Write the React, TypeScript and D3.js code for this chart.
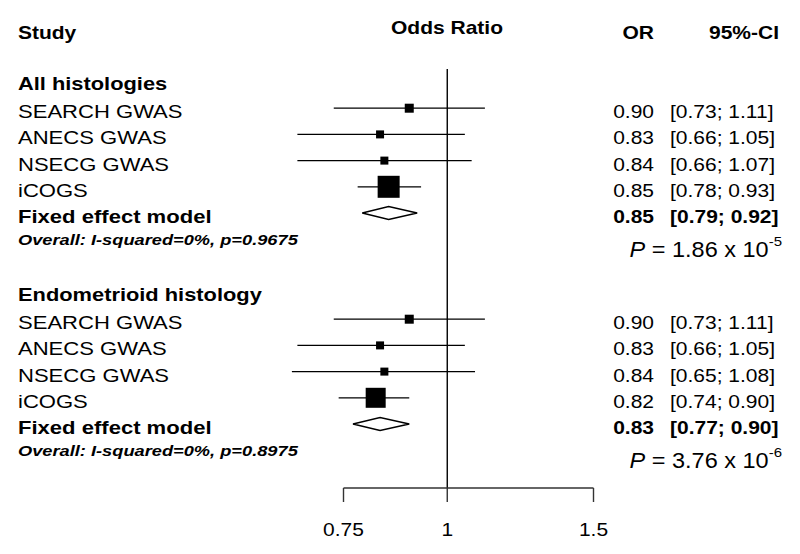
import React from "react";
import * as d3 from "d3";

const groups = ["All histologies", "Endometrioid histology"];
const studies = ["SEARCH GWAS", "ANECS GWAS", "NSECG GWAS", "iCOGS"];
const orG1 = [0.90, 0.83, 0.84, 0.85];
const loG1 = [0.73, 0.66, 0.66, 0.78];
const hiG1 = [1.11, 1.05, 1.07, 0.93];
const wG1 = [9, 8, 8, 22];
const orG2 = [0.90, 0.83, 0.84, 0.82];
const loG2 = [0.73, 0.66, 0.65, 0.74];
const hiG2 = [1.11, 1.05, 1.08, 0.90];
const wG2 = [9, 8, 8, 20];
const fixedOR = [0.85, 0.83];
const fixedLo = [0.79, 0.77];
const fixedHi = [0.92, 0.90];
const hetText = ["Overall: I-squared=0%, p=0.9675", "Overall: I-squared=0%, p=0.8975"];
const pMant = ["1.86", "3.76"];
const pExp = ["-5", "-6"];
const ticks = [0.75, 1, 1.5];

const f2 = (v: number) => v.toFixed(2);
const SY = 0.91;

function T(props: any) {
  const { x, y, sx = 1, children, ...rest } = props;
  return (
    <text transform={`translate(${x},${y}) scale(${sx},${SY})`} {...rest}>
      {children}
    </text>
  );
}

export default function App() {
  const W = 800, H = 554;
  const x = d3.scaleLog().domain([0.75, 1.5]).range([343.5, 593.5]);
  const font = "'Liberation Sans', Arial, sans-serif";
  const rowH = 26.2;
  const groupTop = [82, 293];
  const data = [
    { or: orG1, lo: loG1, hi: hiG1, w: wG1 },
    { or: orG2, lo: loG2, hi: hiG2, w: wG2 },
  ];
  const axisY = 488;
  const FS = 21;
  const LX = 1.05;
  const orX = 654;
  const ciX = 670;
  return (
    <svg width={W} height={H} style={{ position: "absolute", left: 0, top: 0, background: "#fff" }} fontFamily={font}>
      <rect width={W} height={H} fill="#fff" />
      <T x={18} y={38.5} fontSize={FS} fontWeight="bold">Study</T>
      <T x={447} y={34} fontSize={FS} fontWeight="bold" textAnchor="middle">Odds Ratio</T>
      <T x={orX} y={38.5} fontSize={FS} fontWeight="bold" textAnchor="end">OR</T>
      <T x={779} y={38.5} fontSize={FS} fontWeight="bold" textAnchor="end">95%-CI</T>

      <line x1={x(1)} x2={x(1)} y1={69} y2={axisY} stroke="#000" strokeWidth={1.4} />

      {groups.map((g, gi) => {
        const y0 = groupTop[gi];
        const d = data[gi];
        const fy = y0 + rowH * 5;
        return (
          <g key={g}>
            <T x={18} y={y0 + 8} sx={1.04} fontSize={FS} fontWeight="bold">{g}</T>
            {studies.map((s, i) => {
              const y = y0 + rowH * (i + 1);
              const cx = x(d.or[i]);
              return (
                <g key={s}>
                  <T x={18} y={y + 10} sx={LX} fontSize={FS}>{s}</T>
                  <line x1={x(d.lo[i])} x2={x(d.hi[i])} y1={y} y2={y} stroke="#000" strokeWidth={1.3} />
                  <rect x={cx - d.w[i] / 2} y={y - d.w[i] / 2} width={d.w[i]} height={d.w[i]} fill="#000" />
                  <T x={orX} y={y + 10} fontSize={FS} textAnchor="end">{f2(d.or[i])}</T>
                  <T x={ciX} y={y + 10} fontSize={FS}>[{f2(d.lo[i])}; {f2(d.hi[i])}]</T>
                </g>
              );
            })}
            <T x={18} y={fy + 10} sx={LX} fontSize={FS} fontWeight="bold">Fixed effect model</T>
            <polygon
              points={`${x(fixedLo[gi])},${fy} ${x(fixedOR[gi])},${fy - 6.5} ${x(fixedHi[gi])},${fy} ${x(fixedOR[gi])},${fy + 6.5}`}
              fill="#fff" stroke="#000" strokeWidth={1.4} />
            <T x={orX} y={fy + 10} fontSize={FS} fontWeight="bold" textAnchor="end">{f2(fixedOR[gi])}</T>
            <T x={ciX} y={fy + 10} fontSize={FS} fontWeight="bold">[{f2(fixedLo[gi])}; {f2(fixedHi[gi])}]</T>
            <T x={18} y={fy + 31.5} sx={1.14} fontSize={16} fontWeight="bold" fontStyle="italic">{hetText[gi]}</T>
            <T x={782} y={fy + 44} fontSize={23.5} textAnchor="end">
              <tspan fontStyle="italic">P</tspan>
              <tspan> = {pMant[gi]} x 10</tspan>
              <tspan fontSize={15} dy={-12}>{pExp[gi]}</tspan>
            </T>
          </g>
        );
      })}

      <line x1={x(0.75)} x2={x(1.5)} y1={axisY} y2={axisY} stroke="#333" strokeWidth={1.4} />
      {ticks.map((t) => (
        <g key={t}>
          <line x1={x(t)} x2={x(t)} y1={axisY} y2={axisY + 14} stroke="#333" strokeWidth={1.4} />
          <T x={x(t)} y={536} fontSize={FS} textAnchor="middle">{String(t)}</T>
        </g>
      ))}
    </svg>
  );
}
